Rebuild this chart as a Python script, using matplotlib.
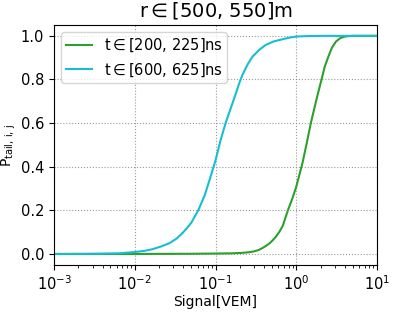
import numpy as np
import matplotlib
matplotlib.use("Agg")
import matplotlib.pyplot as plt

# signal [VEM] and tail probability
sig_early = [0.001, 0.01, 0.05, 0.1, 0.16, 0.21, 0.26, 0.30, 0.34, 0.38, 0.42, 0.47,
             0.51, 0.56, 0.62, 0.68, 0.785, 0.89, 1.0, 1.19, 1.33, 1.51, 1.81, 2.05,
             2.25, 2.49, 2.75, 3.09, 3.5, 4.0, 4.5, 5.0, 10.0]
p_early = [0.0, 0.0, 0.001, 0.002, 0.003, 0.005, 0.008, 0.012, 0.018, 0.027, 0.037, 0.05,
           0.063, 0.08, 0.103, 0.13, 0.2, 0.253, 0.31, 0.417, 0.5, 0.6, 0.722, 0.8,
           0.86, 0.905, 0.945, 0.974, 0.99, 0.997, 0.999, 1.0, 1.0]

sig_late = [0.001, 0.003, 0.0064, 0.01, 0.0135, 0.0166, 0.021, 0.027, 0.033, 0.039,
            0.045, 0.05, 0.061, 0.073, 0.085, 0.1, 0.115, 0.133, 0.147, 0.165, 0.18,
            0.195, 0.215, 0.25, 0.287, 0.35, 0.42, 0.52, 0.68, 0.85, 1.0, 1.4, 2.0, 10.0]
p_late = [0.0, 0.001, 0.003, 0.009, 0.015, 0.022, 0.034, 0.05, 0.071, 0.096,
          0.122, 0.143, 0.2, 0.267, 0.344, 0.43, 0.52, 0.6, 0.646, 0.7, 0.74,
          0.78, 0.821, 0.87, 0.905, 0.937, 0.959, 0.974, 0.985, 0.993, 0.997, 0.999, 1.0, 1.0]

labels = [r't$\in$[200, 225]ns', r't$\in$[600, 625]ns']

fig = plt.figure(figsize=(3.97, 3.12), dpi=100)
ax = fig.add_axes([0.136, 0.151, 0.814, 0.769])

ax.plot(sig_early, p_early, color='tab:green', lw=1.5, label=labels[0])
ax.plot(sig_late, p_late, color='tab:cyan', lw=1.5, label=labels[1])

ax.set_xscale('log')
ax.set_xlim(1e-3, 1e1)
ax.set_ylim(-0.05, 1.05)
ax.grid(True, which='major', linestyle=':', color='gray', alpha=0.8)
ax.set_xlabel('Signal[VEM]', fontsize=10, labelpad=1)
ax.set_ylabel(r'P$_{\mathrm{tail,\,i,\,j}}$', fontsize=10, labelpad=2)
ax.set_title(r'r$\in$[500, 550]m', fontsize=14)
ax.tick_params(labelsize=10.5)
ax.legend(loc='upper left', fontsize=10.5, borderpad=0.3, handlelength=1.8)

fig.savefig('out.png', dpi=100)
